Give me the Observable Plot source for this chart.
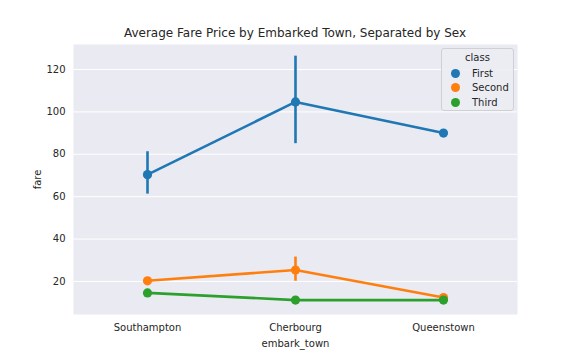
<!DOCTYPE html>
<html><head><meta charset="utf-8">
<script src="https://cdn.jsdelivr.net/npm/d3@7"></script>
<script src="https://cdn.jsdelivr.net/npm/@observablehq/plot@0.6"></script>
<style>
body{margin:0;background:#fff;font-family:"DejaVu Sans",sans-serif;}
#wrap{position:relative;width:576px;height:360px;}
#title{position:absolute;top:26px;left:73px;width:444px;text-align:center;font-size:12px;color:#262626;}
#legend{position:absolute;left:441px;top:48px;width:71px;height:61px;background:rgba(236,236,243,0.9);border:1px solid #cfcfd6;border-radius:3px;font-size:10px;color:#262626;}
#legend .t{text-align:center;margin-top:3px;height:14px;}
#legend .r{display:flex;align-items:center;height:14.5px;}
#legend .d{width:9px;height:9px;border-radius:50%;margin-left:9px;margin-right:12px;}
</style></head>
<body><div id="wrap"><div id="title">Average Fare Price by Embarked Town, Separated by Sex</div><div id="chart"></div><div id="legend"></div></div>
<script>
const towns = ["Southampton", "Cherbourg", "Queenstown"];
const classes = ["First", "Second", "Third"];
const colors = ["#1f77b4", "#ff7f0e", "#2ca02c"];
const fareMean = {First: [70.4, 104.7, 90.0], Second: [20.3, 25.4, 12.4], Third: [14.6, 11.2, 11.2]};
const fareLow  = {First: [61.2, 85.0, 90.0], Second: [19.0, 20.1, 12.2], Third: [13.4, 10.2, 10.0]};
const fareHigh = {First: [81.2, 126.3, 90.0], Second: [21.8, 31.5, 12.6], Third: [16.0, 12.4, 12.6]};
const yTicks = [20, 40, 60, 80, 100, 120];

const rows = [];
classes.forEach(c => towns.forEach((t, i) => rows.push({town: t, cls: c, fare: fareMean[c][i], lo: fareLow[c][i], hi: fareHigh[c][i]})));

const chart = Plot.plot({
  width: 576, height: 360,
  marginTop: 44, marginBottom: 46, marginLeft: 73, marginRight: 59,
  style: {fontFamily: "DejaVu Sans", fontSize: "10px", color: "#262626", background: "#fff"},
  x: {type: "point", domain: towns, padding: 0.5, label: "embark_town", labelAnchor: "center", labelOffset: 32},
  y: {domain: [4.4, 131.8], ticks: yTicks, label: "fare", labelAnchor: "center", labelOffset: 40},
  color: {domain: classes, range: colors},
  marks: [
    Plot.frame({fill: "#eaeaf2", stroke: null}),
    Plot.gridY(yTicks, {stroke: "#fff", strokeOpacity: 1, strokeWidth: 1}),
    Plot.axisX({tickSize: 0, tickPadding: 9, label: "embark_town", labelAnchor: "center", labelOffset: 32, fontSize: 10}),
    Plot.axisY({ticks: yTicks, tickSize: 0, tickPadding: 8, label: "fare", labelAnchor: "center", labelOffset: 40, fontSize: 10, labelArrow: "none"}),
    Plot.ruleX(rows, {x: "town", y1: "lo", y2: "hi", stroke: "cls", strokeWidth: 2.6}),
    Plot.line(rows, {x: "town", y: "fare", z: "cls", stroke: "cls", strokeWidth: 2.6}),
    Plot.dot(rows, {x: "town", y: "fare", fill: "cls", r: 4.6, stroke: null})
  ]
});
document.getElementById("chart").appendChild(chart);

const lg = document.getElementById("legend");
lg.innerHTML = '<div class="t">class</div>' + classes.map((c, i) => `<div class="r"><span class="d" style="background:${colors[i]}"></span>${c}</div>`).join("");
</script>
</body></html>
